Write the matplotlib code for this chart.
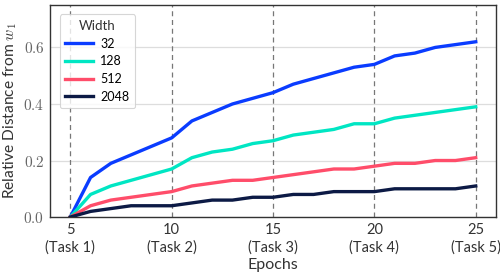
import matplotlib
matplotlib.use("Agg")
import matplotlib.pyplot as plt

epochs = list(range(5, 26))
w32 = [0, 0.14, 0.19, 0.22, 0.25, 0.28, 0.34, 0.37, 0.40, 0.42, 0.44, 0.47, 0.49, 0.51, 0.53, 0.54, 0.57, 0.58, 0.60, 0.61, 0.62]
w128 = [0, 0.08, 0.11, 0.13, 0.15, 0.17, 0.21, 0.23, 0.24, 0.26, 0.27, 0.29, 0.30, 0.31, 0.33, 0.33, 0.35, 0.36, 0.37, 0.38, 0.39]
w512 = [0, 0.04, 0.06, 0.07, 0.08, 0.09, 0.11, 0.12, 0.13, 0.13, 0.14, 0.15, 0.16, 0.17, 0.17, 0.18, 0.19, 0.19, 0.20, 0.20, 0.21]
w2048 = [0, 0.02, 0.03, 0.04, 0.04, 0.04, 0.05, 0.06, 0.06, 0.07, 0.07, 0.08, 0.08, 0.09, 0.09, 0.09, 0.10, 0.10, 0.10, 0.10, 0.11]
series = [("32", w32, "#0a3cff"), ("128", w128, "#00e6c3"), ("512", w512, "#ff4d6a"), ("2048", w2048, "#0c1a45")]
task_ticks = [5, 10, 15, 20, 25]
task_labels = ["5\n(Task 1)", "10\n(Task 2)", "15\n(Task 3)", "20\n(Task 4)", "25\n(Task 5)"]
y_ticks = [0.0, 0.2, 0.4, 0.6]

plt.rcParams['mathtext.fontset'] = 'cm'
plt.rcParams['font.family'] = ['Lato', 'DejaVu Sans']

fig = plt.figure(figsize=(5, 2.79), dpi=100)
ax = fig.add_axes([0.1, 0.222, 0.892, 0.76])

for t in task_ticks:
    ax.axvline(t, color="#777777", linestyle=(0, (4, 3)), linewidth=0.9, zorder=1)
for y in y_ticks:
    ax.axhline(y, color="#dddddd", linewidth=0.9, zorder=0)

for name, vals, c in series:
    ax.plot(epochs, vals, color=c, linewidth=2.4, label=name, zorder=3)

ax.set_xlim(4, 26)
ax.set_ylim(0, 0.75)
ax.set_xticks(task_ticks)
ax.set_xticklabels(task_labels, fontsize=10.5, color="#333333", linespacing=1.35)
ax.set_yticks(y_ticks)
ax.set_yticklabels([r"$%.1f$" % v for v in y_ticks], fontsize=11, color="#666666")
ax.tick_params(axis='both', length=0, pad=4)
ax.set_xlabel("Epochs", fontsize=11.5, color="#333333", labelpad=2)
ax.set_ylabel(r"Relative Distance from $w_1$", fontsize=11.2, color="#333333", labelpad=3)
for s in ax.spines.values():
    s.set_color("#333333")
    s.set_linewidth(1.0)

leg = ax.legend(title="Width", loc="upper left", fontsize=9, title_fontsize=9.5,
                frameon=True, handlelength=2.2, handletextpad=0.6, borderpad=0.45,
                labelspacing=0.45, bbox_to_anchor=(0.008, 0.985))
leg.get_frame().set_edgecolor("#cccccc")
leg.get_frame().set_linewidth(0.8)
leg.get_title().set_color("#333333")

fig.savefig("out.png", dpi=100)
